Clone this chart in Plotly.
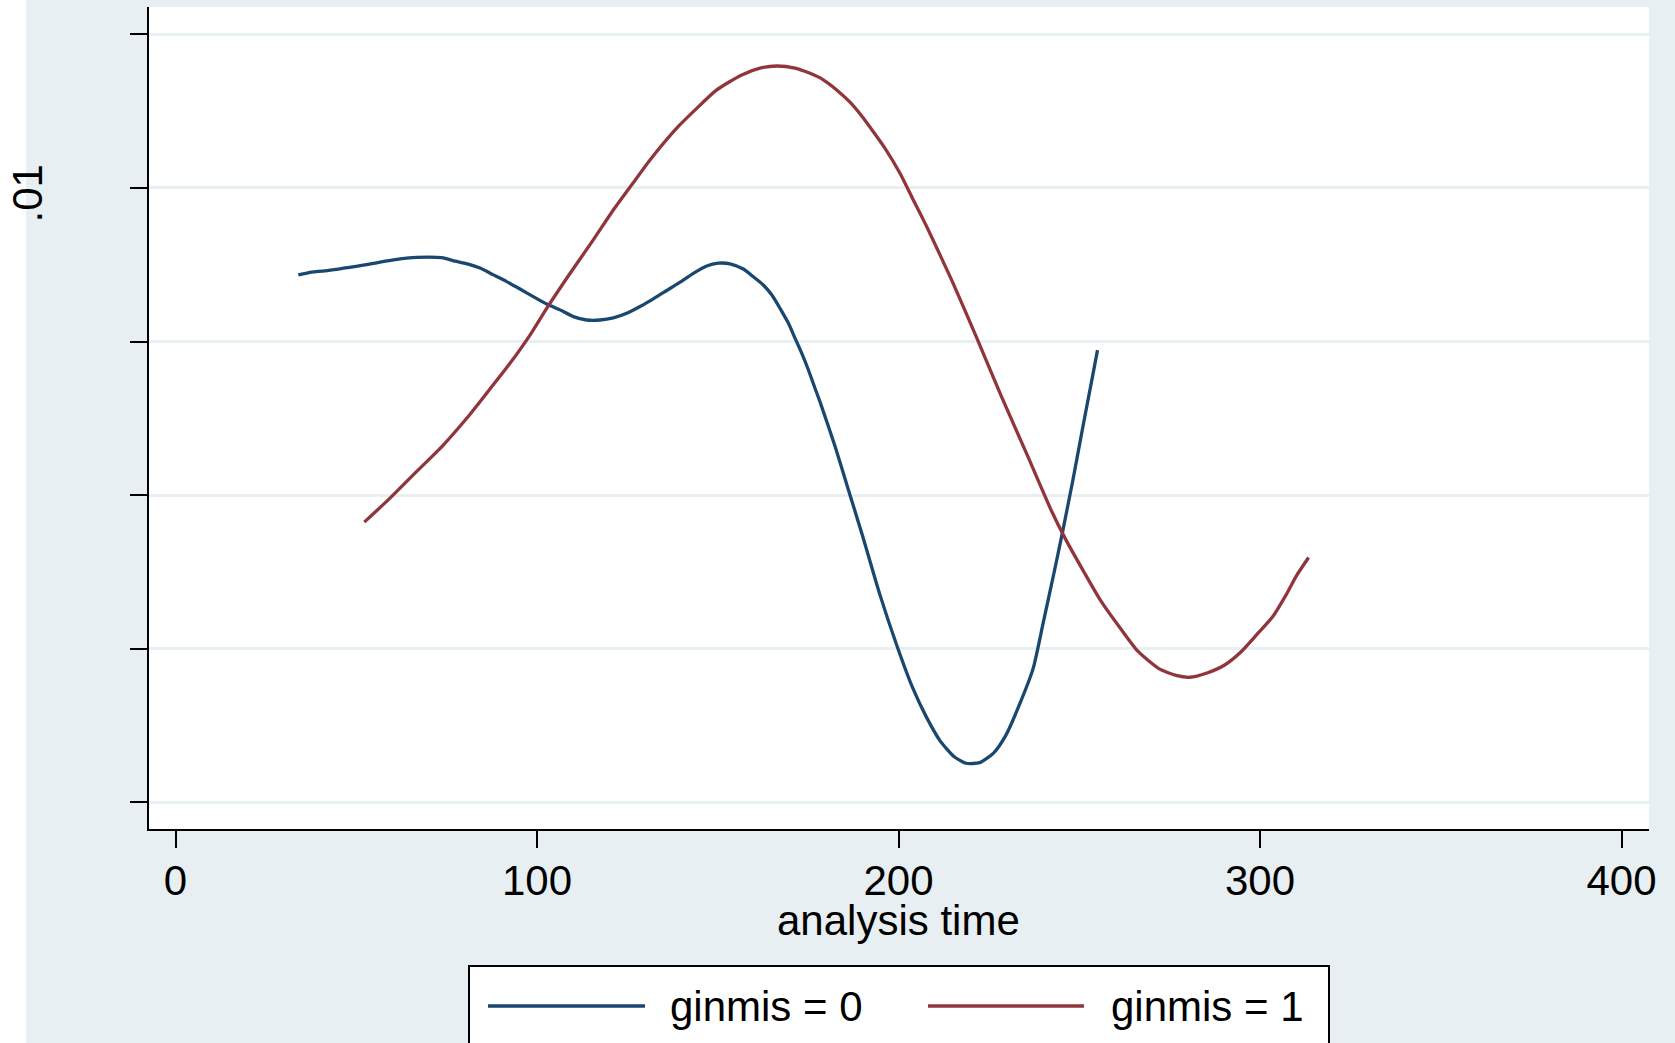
import plotly.graph_objects as go

# ---------------- data ----------------
series_names = ["ginmis = 0", "ginmis = 1"]
series_colors = ["#1a476f", "#90353b"]

t0 = [33.97, 37.68, 41.36, 51.95, 62.10, 66.72, 73.64, 77.32, 81.00, 84.23,
      87.91, 91.62, 95.30, 98.98, 102.68, 106.36, 110.04, 113.75, 117.43, 121.11,
      124.81, 128.49, 132.17, 135.88, 139.56, 143.24, 146.94, 150.15, 153.39, 157.07,
      159.83, 162.60, 164.92, 167.22, 169.52, 171.37, 173.22, 175.05, 176.90, 178.48,
      182.46, 186.28, 190.07, 194.85,
      199.61, 203.90, 207.69, 211.51, 215.33, 218.67, 222.46, 226.28, 229.60, 233.42,
      237.23, 240.08, 242.96, 245.34, 248.19, 251.04, 253.42, 255.05]
h0 = [0.009717, 0.009726, 0.009730, 0.009749, 0.009769, 0.009774, 0.009773, 0.009762, 0.009752, 0.009739,
      0.009717, 0.009695, 0.009671, 0.009646, 0.009622, 0.009603, 0.009581, 0.009570, 0.009570, 0.009577,
      0.009592, 0.009614, 0.009639, 0.009666, 0.009693, 0.009722, 0.009746, 0.009755, 0.009753, 0.009736,
      0.009711, 0.009684, 0.009652, 0.009608, 0.009560, 0.009511, 0.009462, 0.009408, 0.009348, 0.009297,
      0.009158, 0.009012, 0.008867, 0.008676,
      0.008508, 0.008373, 0.008278, 0.008200, 0.008149, 0.008127, 0.008129, 0.008160, 0.008216, 0.008317,
      0.008435, 0.008587, 0.008744, 0.008878, 0.009046, 0.009225, 0.009371, 0.009472]

t1 = [52.23, 59.34, 66.72, 74.08, 80.55, 86.09, 92.53, 98.06, 102.68, 108.22,
      115.57, 121.11, 126.20, 131.26, 139.09, 144.18, 149.71, 156.63, 161.69, 166.31,
      171.37, 175.52, 179.20, 182.90, 186.58, 189.82, 193.03, 196.27, 200.41, 204.09,
      207.80, 211.48, 214.86, 221.52, 228.19, 235.80, 242.46, 246.28, 251.04, 255.79,
      261.52, 266.28, 272.01, 276.76, 280.58, 285.34, 290.10, 294.85, 299.64, 303.43,
      307.25, 310.10, 313.44]
h1 = [0.008912, 0.008990, 0.009077, 0.009163, 0.009250, 0.009332, 0.009429, 0.009521, 0.009608, 0.009706,
      0.009831, 0.009928, 0.010010, 0.010091, 0.010200, 0.010259, 0.010319, 0.010368, 0.010390, 0.010397,
      0.010390, 0.010373, 0.010352, 0.010319, 0.010279, 0.010234, 0.010183, 0.010129, 0.010048, 0.009961,
      0.009874, 0.009782, 0.009696, 0.009515, 0.009329, 0.009125, 0.008945, 0.008855, 0.008755, 0.008659,
      0.008564, 0.008491, 0.008435, 0.008413, 0.008407, 0.008421, 0.008446, 0.008491, 0.008553, 0.008603,
      0.008676, 0.008738, 0.008797]

x_ticks = [0, 100, 200, 300, 400]
y_ticks = [0.0105, 0.0100, 0.0095, 0.0090, 0.0085, 0.0080]
y_ticktext = ["", ".01\u00a0\u00a0", "", "", "", ""]
x_title = "analysis time"

# ---------------- styling ----------------
W, H = 1675, 1043
L, R, T, B = 149, 26, 7, 214
PW, PH = W - L - R, H - T - B
BG = "#e8eff2"
FONT = "Liberation Sans, Arial, Helvetica, sans-serif"
FS = 42


def px_x(p):
    return (p - L) / PW


def px_y(p):
    return (H - B - p) / PH


fig = go.Figure()
for xs, ys, name, col in [(t0, h0, series_names[0], series_colors[0]),
                          (t1, h1, series_names[1], series_colors[1])]:
    fig.add_trace(go.Scatter(x=xs, y=ys, mode="lines", name=name,
                             line=dict(color=col, width=3.3, shape="spline", smoothing=0.6),
                             showlegend=False))

shapes = [
    # white strip at far left of the picture
    dict(type="rect", xref="paper", yref="paper", x0=px_x(-5), x1=px_x(26),
         y0=px_y(H + 20), y1=px_y(-20), fillcolor="white", line=dict(width=0), layer="below"),
    # legend box
    dict(type="rect", xref="paper", yref="paper", x0=px_x(469), x1=px_x(1329),
         y0=px_y(H + 30), y1=px_y(966), fillcolor="white",
         line=dict(color="black", width=2), layer="above"),
]
annotations = [
    dict(text=x_title, xref="paper", yref="paper", x=px_x(898), y=px_y(920),
         xanchor="center", yanchor="middle", showarrow=False,
         font=dict(family=FONT, size=FS, color="black")),
]
legend_line_x = [(488, 645), (928, 1084)]
legend_text_x = [668, 1109]
for i in range(2):
    shapes.append(dict(type="line", xref="paper", yref="paper",
                       x0=px_x(legend_line_x[i][0]), x1=px_x(legend_line_x[i][1]),
                       y0=px_y(1006), y1=px_y(1006),
                       line=dict(color=series_colors[i], width=3.3), layer="above"))
    annotations.append(dict(text=series_names[i], xref="paper", yref="paper",
                            x=px_x(legend_text_x[i]), y=px_y(1006),
                            xanchor="left", yanchor="middle", showarrow=False,
                            font=dict(family=FONT, size=FS, color="black")))

fig.update_layout(
    width=W, height=H,
    margin=dict(l=L, r=R, t=T, b=B, pad=0),
    paper_bgcolor=BG, plot_bgcolor="white",
    font=dict(family=FONT, size=FS, color="black"),
    showlegend=False,
    shapes=shapes, annotations=annotations,
    xaxis=dict(range=[-7.33, 407.6], tickvals=x_ticks, ticks="outside", ticklen=17,
               tickwidth=1.5, tickcolor="black", showline=True, linecolor="black",
               linewidth=2, showgrid=False, zeroline=False, ticklabelstandoff=-3,
               automargin=False,
               tickfont=dict(family=FONT, size=FS, color="black")),
    yaxis=dict(range=[0.007913, 0.010589], tickvals=y_ticks, ticktext=y_ticktext,
               ticks="outside", ticklen=17, tickwidth=1.5, tickcolor="black",
               showline=True, linecolor="black", linewidth=2, showgrid=True,
               gridcolor=BG, gridwidth=3, zeroline=False, tickangle=-90,
               ticklabelstandoff=71, automargin=False,
               tickfont=dict(family=FONT, size=FS, color="black")),
)

fig.write_html("out.html")
